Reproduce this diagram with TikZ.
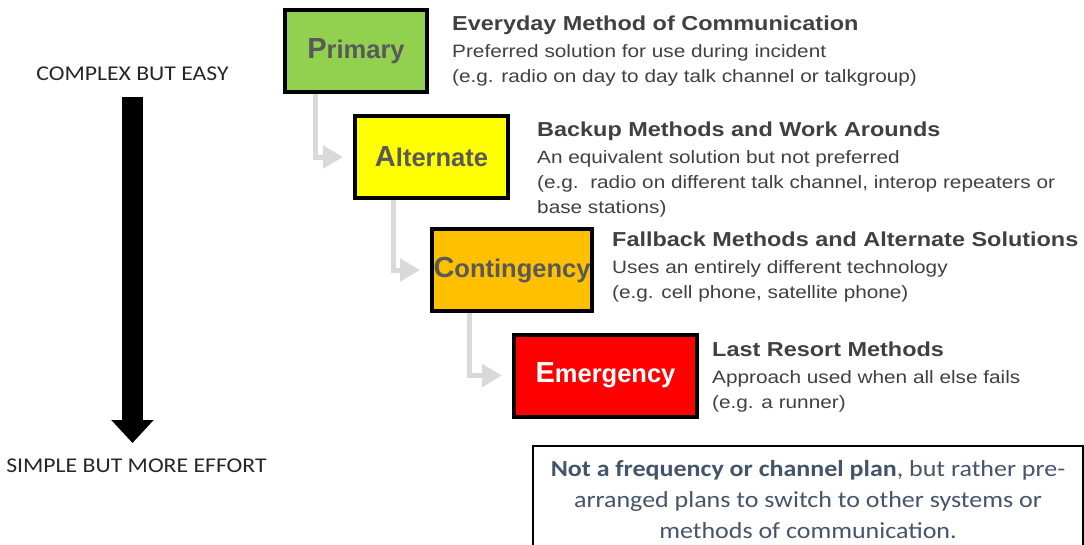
\documentclass[tikz,border=0pt]{standalone}
\usepackage{fontspec}
\setmainfont{Liberation Sans}
\newfontfamily\descfont[FakeStretch=1.16]{Liberation Sans}
\newfontfamily\calibri[FakeStretch=1.13]{Carlito}
\usetikzlibrary{positioning,arrows.meta}
\definecolor{verdeprim}{RGB}{146,208,80}
\definecolor{amarilloalt}{RGB}{255,255,0}
\definecolor{naranjacont}{RGB}{255,192,0}
\definecolor{rojoemer}{RGB}{255,0,0}
\definecolor{grisconector}{RGB}{217,217,217}
\definecolor{gristexto}{RGB}{89,89,89}
\definecolor{grisdesc}{RGB}{64,64,64}
\definecolor{azulnota}{RGB}{68,84,106}
\tikzset{caja/.style={draw=black, line width=4pt, minimum height=82pt, inner sep=0pt,
                      text=gristexto, font=\fontsize{25.5}{28}\selectfont\bfseries}}
\tikzset{conector/.style={draw=grisconector, line width=5pt, shorten >=10pt,
                          -{Triangle[length=20pt,width=22pt]}}}
\tikzset{desc/.style={anchor=north west, inner sep=0pt, align=left, text=grisdesc,
                      font=\descfont\fontsize{17.9}{25}\selectfont}}
\tikzset{lateral/.style={inner sep=0pt, text=black!85, font=\calibri\fontsize{21}{24}\selectfont}}
\newcommand{\inicial}[1]{{\fontsize{29}{30}\selectfont #1}}
\newcommand{\titulo}[1]{{\fontsize{20.2}{23}\selectfont\bfseries #1}}

\begin{document}
\begin{tikzpicture}[x=1pt, y=-1pt]
    \useasboundingbox (0,0) rectangle (1084,544);

    % escalones
    \node[caja, fill=verdeprim, minimum width=142pt] (primary) at (356,51) {\inicial{P}rimary};
    \node[caja, fill=amarilloalt, minimum width=153pt] (alternate) at (431.5,157) {\inicial{A}lternate};
    \node[caja, fill=naranjacont, minimum width=160pt] (contingency) at (512,270) {\inicial{C}ontingency};
    \node[caja, fill=rojoemer, text=white, minimum width=183pt] (emergency) at (605.5,375.5) {\inicial{E}mergency};

    \draw[conector] ([xshift=32pt]primary.south west) |- (alternate.west);
    \draw[conector] ([xshift=40pt]alternate.south west) |- (contingency.west);
    \draw[conector] ([xshift=39pt]contingency.south west) |- (emergency.west);

    % descripciones
    \node[desc] (dprimary) at (452,16) {\titulo{Everyday Method of Communication}\\[2pt]
        Preferred solution for use during incident\\
        (e.g. radio on day to day talk channel or talkgroup)};
    \node[desc] (dalternate) at (537,122) {\titulo{Backup Methods and Work Arounds}\\[2pt]
        An equivalent solution but not preferred\\
        (e.g.\ \ radio on different talk channel, interop repeaters or\\
        base stations)};
    \node[desc] (dcontingency) at (612,232) {\titulo{Fallback Methods and Alternate Solutions}\\[2pt]
        Uses an entirely different technology\\
        (e.g. cell phone, satellite phone)};
    \node[desc] (demergency) at (712,342) {\titulo{Last Resort Methods}\\[2pt]
        Approach used when all else fails\\
        (e.g. a runner)};

    % flecha lateral
    \node[lateral] (facil) at (132.5,74) {COMPLEX BUT EASY};
    \node[lateral] (esfuerzo) at (136.5,466) {SIMPLE BUT MORE EFFORT};
    \coordinate (inicio) at (132.5,97);
    \coordinate (final) at (132.5,443);
    \draw[line width=21pt, -{Triangle[length=23pt,width=41pt]}] (inicio) -- (final);

    % nota
    \node[draw=black, line width=1.5pt, minimum width=550pt, minimum height=108pt,
          align=center, text=azulnota, font=\calibri\fontsize{23}{31}\selectfont]
        (nota) at (808,500) {\textbf{Not a frequency or channel plan}, but rather pre-\\
        arranged plans to switch to other systems or\\
        methods of communication.};
\end{tikzpicture}
\end{document}
